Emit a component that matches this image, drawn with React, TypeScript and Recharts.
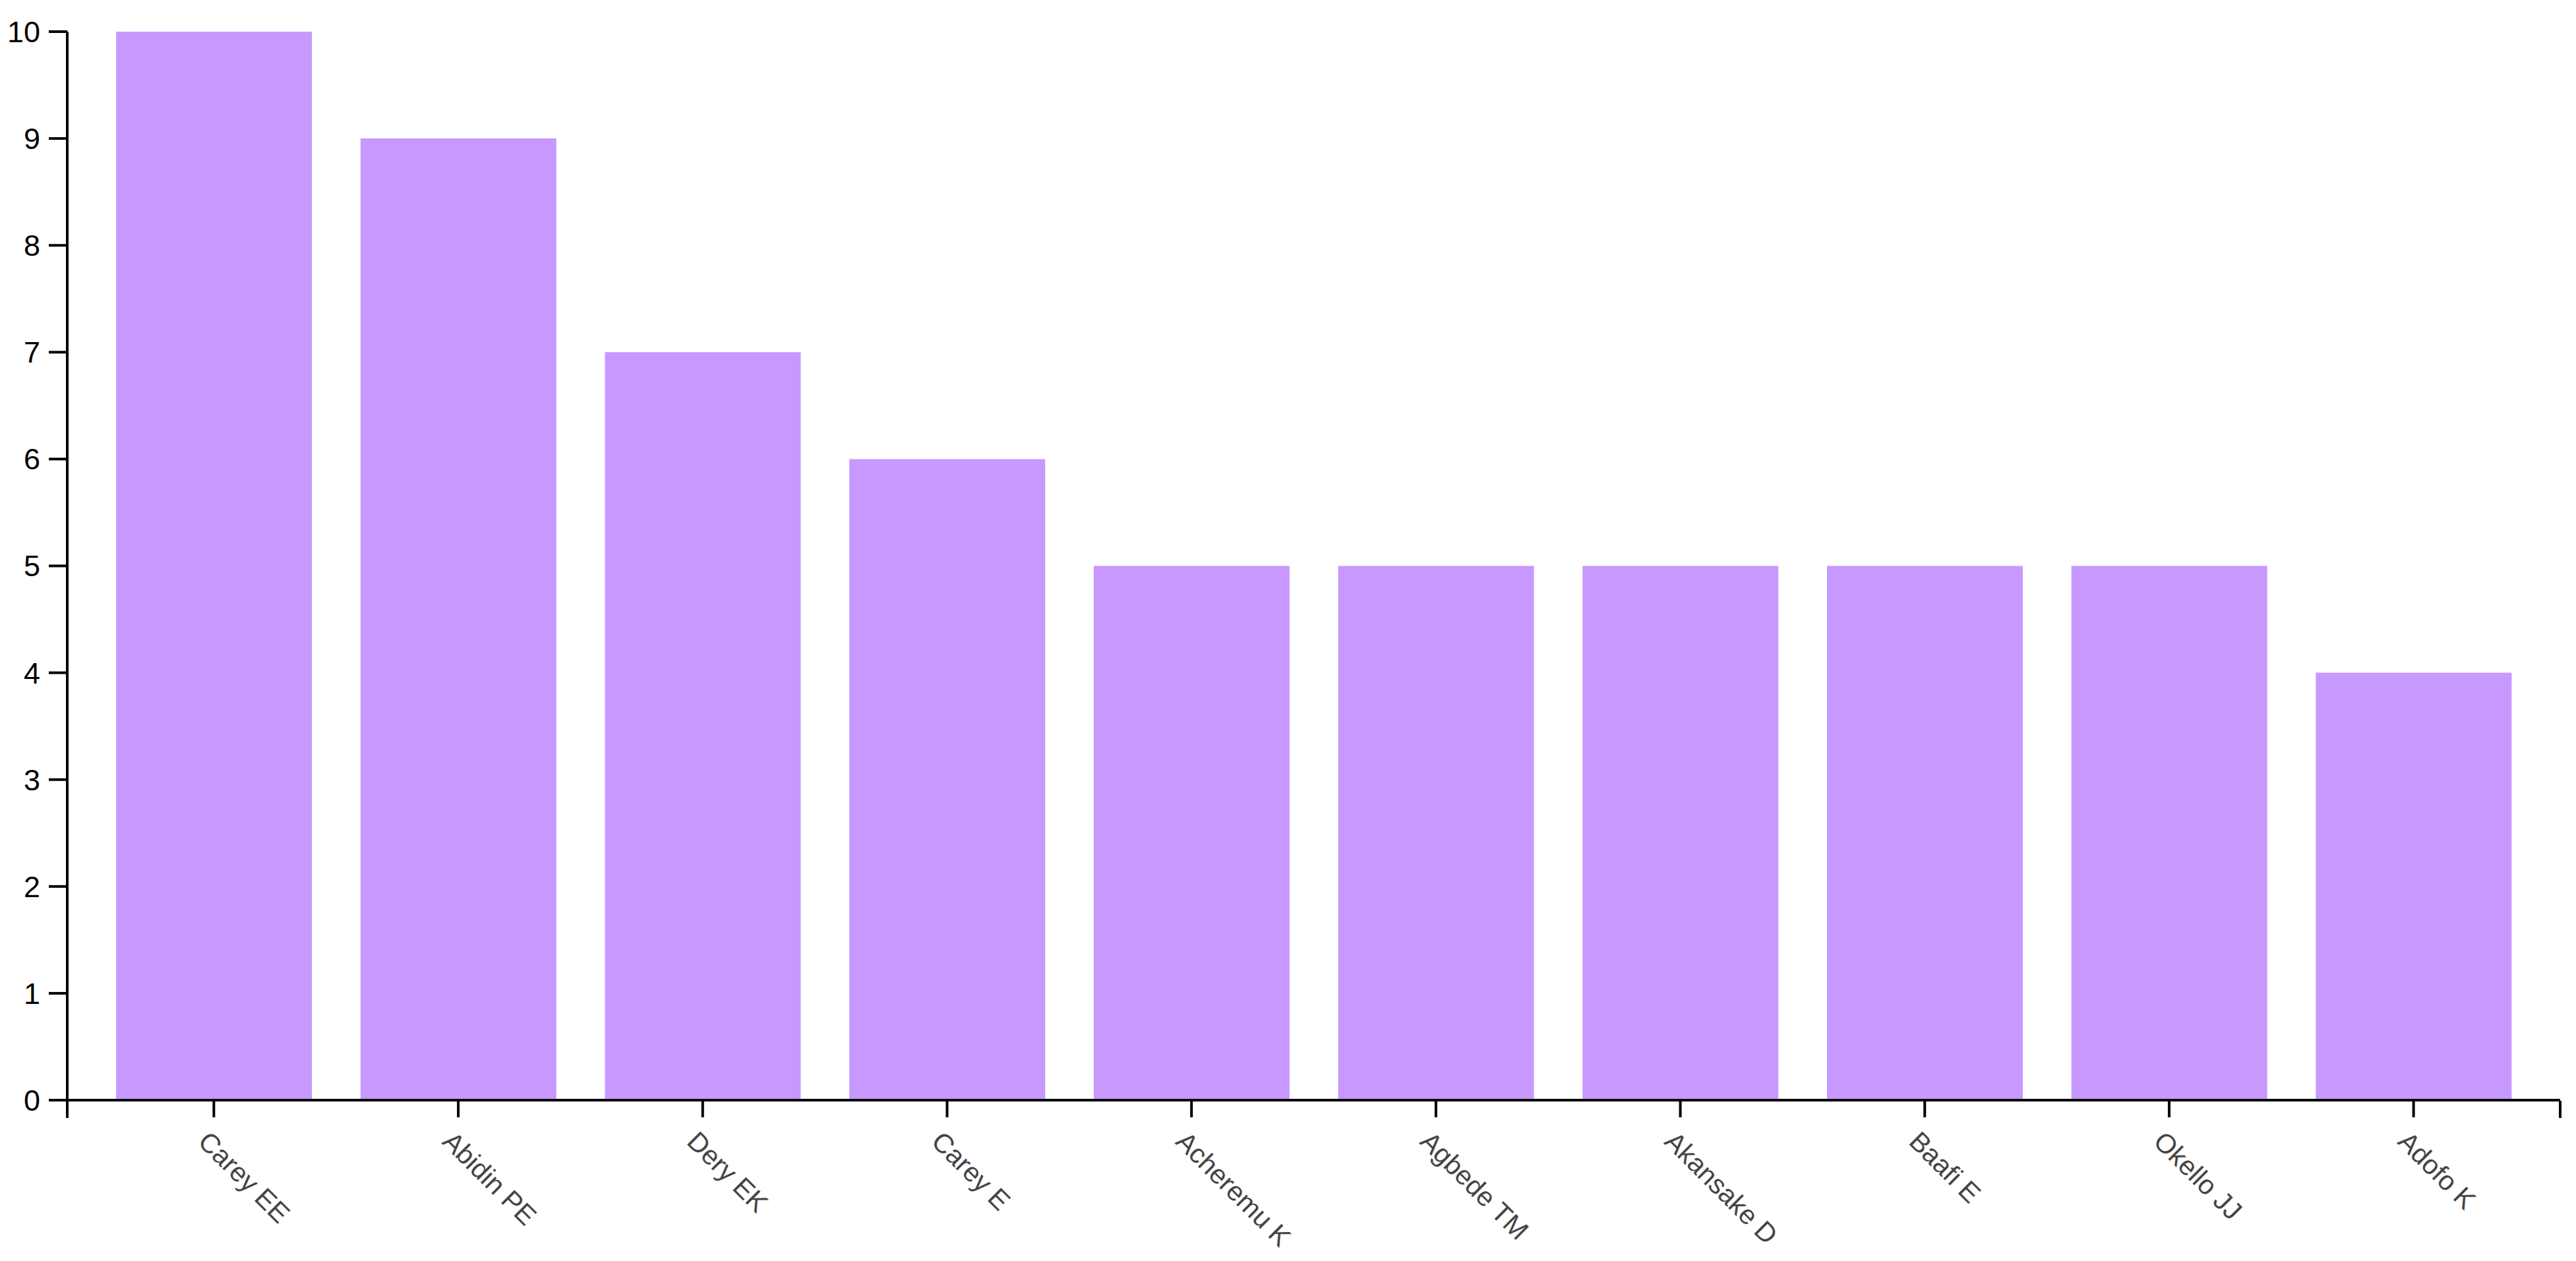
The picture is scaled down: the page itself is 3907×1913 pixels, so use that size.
import { BarChart, Bar, XAxis, YAxis } from 'recharts'

const authors = ['Carey EE', 'Abidin PE', 'Dery EK', 'Carey E', 'Acheremu K', 'Agbede TM', 'Akansake D', 'Baafi E', 'Okello JJ', 'Adofo K']
const counts = [10, 9, 7, 6, 5, 5, 5, 5, 5, 4]
const yTicks = [0, 1, 2, 3, 4, 5, 6, 7, 8, 9, 10]

const data = authors.map((name, i) => ({ name, count: counts[i] }))

const AngledTick = ({ x, y, payload }: any) => (
  <g transform={`translate(${x - 26},${y + 39})`}>
    <text
      transform="rotate(45)"
      textAnchor="start"
      fontFamily="'Liberation Sans', Arial, sans-serif"
      fontSize={41}
      fill="#444"
    >
      {payload.value}
    </text>
  </g>
)

export default function App() {
  return (
    <div style={{ position: 'absolute', left: 0, top: 0, background: '#fff' }}>
      <BarChart
        width={3907}
        height={1913}
        data={data}
        barCategoryGap="10%"
        margin={{ top: 48, right: 24, bottom: 242, left: 0 }}
      >
        <XAxis
          dataKey="name"
          height={1}
          padding={{ left: 37, right: 37 }}
          stroke="#000"
          strokeWidth={4}
          tickSize={26}
          tickMargin={0}
          interval={0}
          tick={<AngledTick />}
        />
        {/* outer end ticks of the x axis (index domain, first..last row) */}
        <XAxis
          xAxisId="ends"
          type="number"
          ticks={[0, authors.length - 1]}
          height={1}
          axisLine={false}
          stroke="#000"
          strokeWidth={4}
          tickSize={26}
          tick={() => null}
        />
        <YAxis
          width={102}
          domain={[0, 10]}
          ticks={yTicks}
          interval={0}
          stroke="#000"
          strokeWidth={4}
          tickSize={28}
          tickMargin={13}
          tick={{ fill: '#000', fontSize: 45, fontFamily: "'Liberation Sans', Arial, sans-serif" }}
        />
        <Bar dataKey="count" fill="#c799ff" isAnimationActive={false} />
      </BarChart>
    </div>
  )
}
